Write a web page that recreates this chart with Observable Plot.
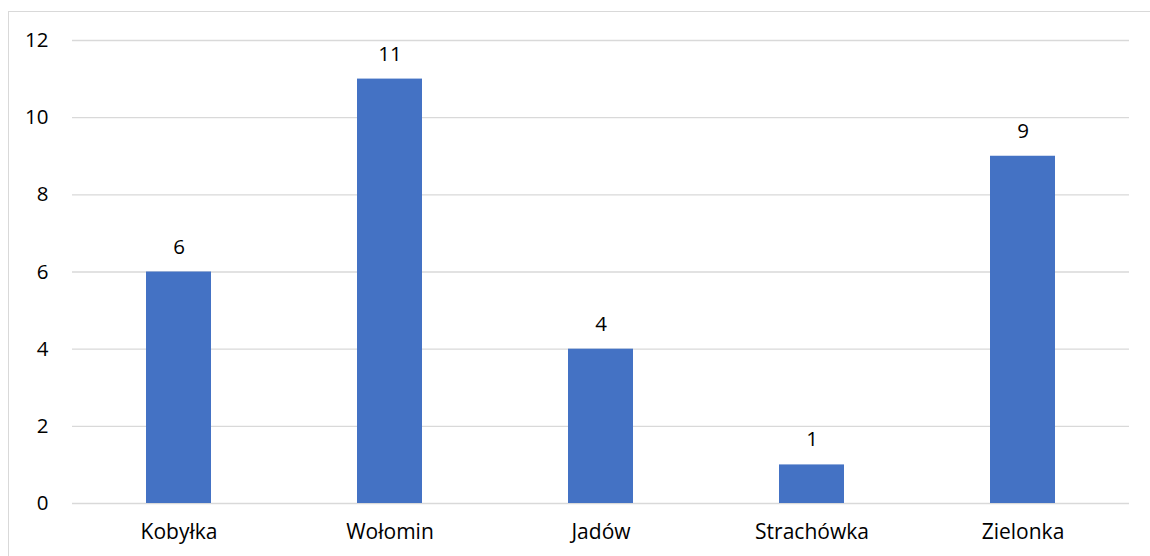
<!DOCTYPE html>
<html>
<head>
<meta charset="utf-8">
<script src="https://cdn.jsdelivr.net/npm/d3@7"></script>
<script src="https://cdn.jsdelivr.net/npm/@observablehq/plot@0.6"></script>
<style>
  html, body { margin: 0; padding: 0; background: #fff; overflow: hidden; }
  #wrap { position: relative; width: 1150px; height: 556px; }
  #border { position: absolute; left: 8px; top: 11px; width: 1300px; height: 700px;
            border-left: 1.5px solid #d9d9d9; border-top: 1.5px solid #d9d9d9; }
  #chart { position: absolute; left: 0; top: 0; }
</style>
</head>
<body>
<div id="wrap"><div id="border"></div><div id="chart"></div></div>
<script>
const categories = ["Kobyłka", "Wołomin", "Jadów", "Strachówka", "Zielonka"];
const values = [6, 11, 4, 1, 9];
const yTicks = [0, 2, 4, 6, 8, 10, 12];

const data = categories.map((c, i) => ({category: c, value: values[i]}));
const font = "'Open Sans', 'Noto Sans', sans-serif";

const chart = Plot.plot({
  width: 1150,
  height: 556,
  marginLeft: 72,
  marginRight: 21,
  marginTop: 40,
  marginBottom: 53,
  style: {fontFamily: font, fontSize: "21px", color: "#000", background: "transparent"},
  x: {domain: categories, paddingInner: 0.69, paddingOuter: 0.345, label: null},
  y: {domain: [0, 12], ticks: yTicks, label: null},
  marks: [
    Plot.ruleY(yTicks, {stroke: "#d9d9d9", strokeWidth: 1.3}),
    Plot.barY(data, {x: "category", y: "value", fill: "#4472C4"}),
    Plot.text(data, {x: "category", y: "value", text: d => String(d.value), dy: -25, fontSize: 20.5, fill: "#000"}),
    Plot.axisX({tickSize: 0, tickPadding: 21, fontSize: 21, label: null}),
    Plot.axisY({ticks: yTicks, tickSize: 0, tickPadding: 24, fontSize: 20.5, label: null})
  ]
});
document.getElementById("chart").appendChild(chart);
</script>
</body>
</html>
